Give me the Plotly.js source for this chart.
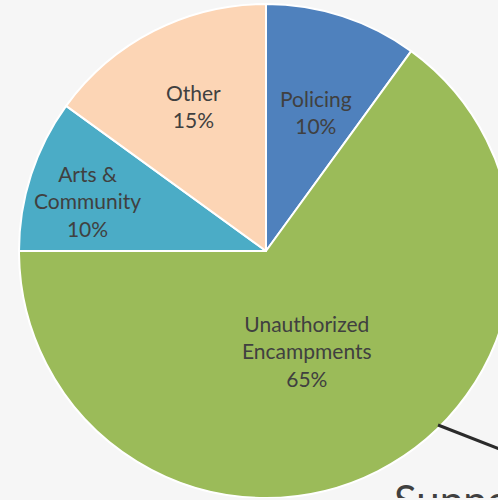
<!DOCTYPE html>
<html>
<head>
<meta charset="utf-8">
<script src="https://cdn.plot.ly/plotly-3.0.1.min.js"></script>
<style>
html, body { margin: 0; padding: 0; background: #f6f6f6; overflow: hidden; width: 498px; height: 500px; }
#chart { position: absolute; left: 0; top: 0; width: 532px; height: 498px; }
</style>
</head>
<body>
<div id="chart"></div>
<script>
const categories = ["Policing", "Unauthorized<br>Encampments", "Arts &<br>Community", "Other"];
const values = [10, 65, 10, 15];
const percentLabels = ["10%", "65%", "10%", "15%"];
const colors = ["#4F81BD", "#9BBB59", "#4BACC6", "#FCD5B5"];
// label anchor points (paper coords) for each slice's text
const labelX = [0.594, 0.577, 0.165, 0.363];
const labelY = [0.781, 0.298, 0.601, 0.794];

const trace = {
  type: "pie",
  values: values,
  labels: categories,
  sort: false,
  direction: "clockwise",
  rotation: 0,
  marker: { colors: colors, line: { color: "#ffffff", width: 2 } },
  textinfo: "none",
  hoverinfo: "label+percent",
  domain: { x: [0, 1], y: [0, 1] }
};

const annotations = categories.map((c, i) => ({
  xref: "paper", yref: "paper",
  x: labelX[i], y: labelY[i],
  text: c + "<br>" + percentLabels[i],
  showarrow: false,
  font: { family: "Lato, 'Open Sans', sans-serif", size: 21, color: "#404040" },
  xanchor: "center", yanchor: "middle", align: "center"
}));

annotations.push({
  xref: "paper", yref: "paper",
  x: 392 / 532, y: 1 - (469 / 494),
  text: "Support",
  showarrow: false,
  font: { family: "Lato, 'Open Sans', sans-serif", size: 42, color: "#404040" },
  xanchor: "left", yanchor: "top", align: "left"
});

const layout = {
  width: 532,
  height: 498,
  margin: { l: 0, r: 0, t: 4, b: 0, pad: 0 },
  paper_bgcolor: "#f6f6f6",
  plot_bgcolor: "#f6f6f6",
  showlegend: false,
  annotations: annotations,
  shapes: [{
    type: "line", xref: "paper", yref: "paper",
    x0: 438 / 532, y0: 1 - (421 / 494),
    x1: 530 / 532, y1: 1 - (457 / 494),
    line: { color: "#2b2b2b", width: 3 }
  }]
};

Plotly.newPlot("chart", [trace], layout, { displayModeBar: false, staticPlot: true });
</script>
</body>
</html>
